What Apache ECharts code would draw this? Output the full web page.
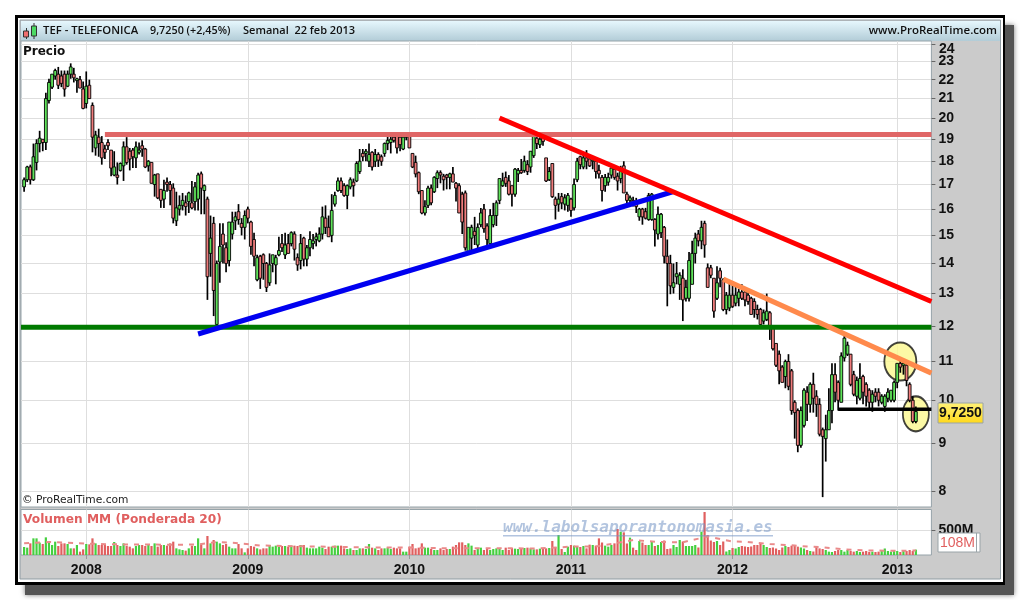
<!DOCTYPE html>
<html>
<head>
<meta charset="utf-8">
<title>TEF - TELEFONICA</title>
<style>
    html, body { margin: 0; padding: 0; background: #fff; }
    #chart { width: 1020px; height: 600px; }
</style>
<script src="https://cdn.jsdelivr.net/npm/echarts@6/dist/echarts.min.js"></script>
</head>
<body>
<div id="chart"></div>
<script>
// weekly candles as [open, close, low, high]
const candles2007 = [
    [16.9,17.2,16.7,17.3],[17.2,17.75,17.1,17.8],[17.75,17.2,17.0,17.85],[17.2,18.2,17.15,18.8],
    [17.95,18.8,17.6,19.0],[18.8,19.05,18.4,19.4],[19.0,18.85,18.45,19.0],[18.85,21.0,18.5,21.3],
    [20.9,21.85,20.75,22.05],[21.6,22.3,21.5,22.3],[22.2,22.5,22.0,22.6],[22.3,21.7,21.5,22.7],
    [22.2,21.8,21.6,22.5],[22.3,21.5,21.1,22.5],[21.65,22.3,21.6,22.5],[22.3,22.7,22.05,22.9],
    [22.3,22.1,21.85,22.65],[21.95,22.05,21.3,22.1],[22.0,21.55,21.55,22.2],[21.5,20.5,20.45,21.9]
];
const candles2008 = [
    [20.75,21.65,20.5,22.45],[21.7,21.0,21.0,22.0],[20.65,19.1,18.4,20.8],[18.6,19.2,18.25,19.4],
    [19.1,18.8,18.2,19.5],[18.85,18.15,17.85,19.15],[18.55,18.4,18.1,18.75],[18.85,18.7,18.5,19.0],
    [18.5,17.7,17.35,18.5],[17.4,17.75,17.35,18.45],[17.4,17.3,17.0,17.95],[17.6,17.9,17.55,17.95],
    [17.8,18.65,17.15,18.9],[18.65,17.95,17.85,19.1],[18.45,18.1,17.6,18.6],[18.5,18.2,17.7,18.6],
    [18.15,18.65,17.7,18.9],[18.4,18.5,18.3,18.85],[18.7,18.55,18.2,18.95],[18.55,17.75,17.7,18.6],
    [17.8,18.0,17.55,18.05],[17.95,17.05,17.05,17.95],[17.0,17.4,16.5,17.45],[17.45,16.45,16.4,17.45],
    [16.8,16.35,16.05,16.8],[16.4,16.75,16.05,17.2],[17.1,17.0,16.7,17.3],[17.0,16.75,16.15,17.15],
    [16.85,15.65,15.45,17.05],[15.55,16.05,15.35,16.7],[16.0,16.15,15.75,16.55],[16.15,16.35,15.95,16.65],
    [16.25,16.1,15.75,16.55],[16.3,16.65,15.85,16.7],[16.25,16.05,16.0,17.15],[16.3,16.9,15.95,17.1],
    [16.4,17.4,15.95,17.5],[17.45,16.85,15.8,17.55],[16.75,16.95,15.8,17.0],[16.4,13.55,12.8,16.5],
    [14.35,14.9,13.55,15.75],[15.45,13.1,12.3,15.7],[12.05,14.0,11.95,14.1],[14.05,14.6,13.35,15.45],
    [15.05,14.65,14.0,15.45],[14.55,14.0,13.7,14.75],[14.1,15.5,13.9,15.5],[15.05,15.5,14.85,15.9],
    [15.55,15.7,15.2,15.9],[15.9,15.6,15.4,16.2],[15.45,15.3,15.0,15.65],[15.3,15.75,14.85,15.95]
];
const candles2009 = [
    [16.0,15.65,15.45,16.1],[15.5,14.6,14.3,15.55],[14.85,14.25,13.9,15.1],[13.45,14.2,13.4,14.3],
    [14.25,13.5,13.15,14.3],[14.3,14.0,13.45,14.35],[14.0,13.2,13.05,14.05],[13.35,13.95,13.25,14.35],
    [14.0,14.3,13.7,14.3],[13.95,14.2,13.3,14.3],[14.3,14.45,14.25,14.95],[14.7,14.55,14.4,15.05],
    [14.3,14.65,14.15,15.1],[14.7,14.35,14.35,15.05],[14.7,15.1,14.6,15.15],[15.05,14.5,14.1,15.15],
    [14.2,13.95,13.75,14.35],[14.1,14.7,13.8,15.05],[14.9,14.15,13.9,14.95],[14.15,14.55,13.9,14.65],
    [14.55,14.85,14.25,15.15],[14.7,14.8,14.5,15.05],[14.85,14.95,14.6,15.1],[14.8,15.05,14.75,15.3],
    [15.05,15.7,14.85,16.1],[15.65,15.3,15.05,16.15],[15.3,14.95,14.95,15.75],[15.0,15.95,14.75,16.6],
    [16.2,16.55,16.1,16.7],[16.75,17.15,16.7,17.3],[17.15,16.75,16.65,17.3],[16.95,16.55,16.5,17.05],
    [16.55,16.95,16.0,17.0],[16.9,17.2,16.8,17.3],[17.1,16.95,16.5,17.25],[17.15,17.9,17.1,18.0],
    [17.55,18.0,17.45,18.55],[18.35,18.2,18.0,18.55],[18.35,18.45,18.0,18.55],[18.0,18.3,17.75,18.8],
    [18.4,17.75,17.6,18.45],[18.0,18.3,17.75,18.55],[18.3,18.05,17.75,18.4],[18.2,18.0,17.8,18.3],
    [18.35,18.8,18.2,18.85],[18.8,18.95,18.5,19.25],[18.85,19.0,18.35,19.2],[19.1,18.95,18.85,19.3],
    [19.2,18.6,18.35,19.3],[19.1,18.75,18.45,19.2],[18.55,19.1,18.5,19.3],[19.1,19.2,18.95,19.3]
];
const candles2010 = [
    [19.25,18.6,18.6,19.3],[18.35,17.75,17.7,18.35],[17.95,17.45,17.3,18.25],[17.5,16.7,16.6,17.55],
    [16.75,15.85,15.8,16.75],[15.85,16.1,15.75,16.35],[16.15,16.85,16.05,16.95],[16.85,16.25,16.15,17.0],
    [16.7,17.3,16.65,17.35],[17.25,17.5,16.85,17.6],[17.5,17.4,17.05,17.6],[17.35,17.2,16.75,17.45],
    [17.4,17.3,16.8,17.45],[17.3,17.45,16.8,17.5],[17.45,17.1,17.1,17.75],[17.05,16.85,16.3,17.1],
    [16.95,15.85,15.85,17.05],[16.6,15.5,15.05,16.7],[16.65,14.55,14.45,16.75],[14.4,15.3,14.4,15.3],
    [14.9,15.3,14.45,15.4],[15.15,15.0,14.65,15.7],[14.65,15.3,14.45,15.45],[15.4,15.85,15.3,16.05],
    [16.0,15.25,15.1,16.2],[15.35,14.85,14.6,15.45],[14.7,15.75,14.6,16.0],[15.4,15.75,15.3,16.25],
    [15.75,16.25,15.35,16.35],[16.35,17.25,16.2,17.25],[16.95,17.15,16.9,17.5],[17.3,17.05,16.9,17.55],
    [17.15,16.6,16.55,17.4],[16.95,16.6,16.1,16.95],[16.6,17.65,16.5,17.7],[17.45,17.6,17.1,17.7],
    [17.6,17.5,17.45,18.1],[17.6,18.0,17.5,18.25],[17.85,17.55,17.4,18.05],[17.75,18.45,17.5,18.45],
    [18.25,19.15,18.15,19.3],[19.05,18.8,18.55,19.1],[18.75,19.0,18.6,19.1],[19.1,18.9,18.7,19.2],
    [18.15,17.15,17.1,18.15],[17.2,17.55,17.15,17.75],[17.9,16.5,16.45,17.9],[16.4,16.15,15.6,16.5],
    [16.2,16.4,15.9,16.65],[16.5,16.25,16.0,16.65],[16.2,16.45,15.95,16.6],[16.15,16.55,15.9,16.65]
];
const candles2011 = [
    [16.4,15.95,15.7,16.45],[16.05,17.0,15.95,17.25],[17.2,18.0,17.1,18.15],[18.2,17.85,17.65,18.25],
    [17.75,18.15,17.65,18.35],[18.15,18.0,17.65,18.5],[18.1,17.8,17.75,18.2],[18.0,18.05,17.65,18.15],
    [18.0,17.55,17.25,18.05],[17.6,17.45,17.25,17.85],[17.3,16.75,16.3,17.4],[16.95,17.3,16.7,17.45],
    [17.1,17.3,16.95,17.5],[17.4,17.7,17.25,17.75],[17.65,17.3,17.2,17.75],[17.35,17.15,16.75,17.5],
    [17.25,17.55,17.05,17.8],[17.8,16.65,16.65,18.0],[16.6,16.35,16.2,16.7],[16.35,16.45,16.15,16.55],
    [16.35,16.2,16.1,16.5],[16.25,16.1,15.85,16.45],[15.7,16.0,15.55,16.05],[16.0,15.7,15.4,16.05],
    [15.9,15.65,15.6,16.05],[15.6,16.55,15.55,16.65],[15.6,16.6,15.55,16.65],[15.6,15.2,14.6,15.65],
    [15.05,15.8,14.85,16.1],[15.1,15.8,14.9,15.85],[15.3,14.25,14.0,15.35],[14.25,14.0,12.6,14.85],
    [14.0,13.25,12.98,14.3],[13.2,13.35,13.0,14.0],[13.55,13.65,13.3,14.05],[13.3,13.6,12.8,13.7],
    [13.5,12.8,12.15,13.8],[12.85,13.2,12.75,13.45],[12.85,14.1,12.75,14.4],[13.3,14.35,13.3,14.8],
    [14.35,14.9,14.0,15.1],[15.05,14.8,14.6,15.2],[14.8,15.3,14.5,15.55],[15.45,14.65,14.2,15.55],
    [13.85,13.2,13.2,14.0],[13.85,13.6,13.5,13.95],[13.5,12.45,12.25,13.5],[12.85,13.35,12.8,13.9],
    [13.75,13.5,13.2,13.85],[13.45,12.5,12.45,13.5],[12.5,12.95,12.35,13.05],[12.55,12.95,12.45,13.35]
];
const candles2012 = [
    [12.95,12.6,12.55,13.3],[12.7,12.95,12.6,13.25],[12.85,13.05,12.6,13.15],[13.05,12.85,12.8,13.3],
    [13.05,12.8,12.6,13.15],[12.95,12.75,12.65,13.15],[12.85,12.35,12.35,12.9],[12.75,12.5,12.25,12.85],
    [12.5,12.35,12.2,12.65],[12.5,12.05,12.0,12.55],[12.15,12.4,12.05,12.5],[12.2,12.45,12.15,13.0],
    [12.4,12.0,11.6,12.45],[11.95,11.35,11.3,12.0],[11.5,10.9,10.85,11.5],[11.2,10.75,10.4,11.3],
    [10.85,10.45,10.45,10.9],[10.6,11.0,10.3,11.05],[11.0,10.35,10.25,11.2],[10.75,9.75,9.65,10.8],
    [9.95,9.7,9.1,10.0],[9.75,8.95,8.8,9.8],[8.95,9.75,8.9,9.85],[9.4,10.25,9.35,10.3],
    [10.2,9.9,9.5,10.35],[9.9,10.4,9.7,10.45],[10.4,10.05,9.7,10.7],[10.1,9.9,9.6,10.25],
    [9.9,9.2,9.15,10.05],[9.3,9.15,7.88,9.35],[9.1,9.3,8.6,9.65],[9.3,9.75,9.3,10.3],
    [9.75,10.65,9.45,10.95],[10.65,10.2,9.95,10.95],[10.45,10.0,9.75,10.5],[9.95,11.15,9.95,11.25],
    [11.1,11.65,11.0,11.75],[11.2,11.45,11.15,11.55],[11.2,10.4,10.35,11.2],[10.65,10.15,10.1,10.75],
    [10.1,10.5,9.9,10.6],[10.05,10.55,10.0,10.95],[10.6,10.2,9.9,10.65],[10.4,10.1,9.85,10.45],
    [10.25,9.95,9.8,10.3],[9.95,10.15,9.72,10.25],[10.2,10.1,9.95,10.3],[10.2,10.0,9.85,10.3],
    [9.95,10.1,9.9,10.15],[9.85,10.1,9.72,10.15],[10.05,10.2,9.95,10.3],[10.0,10.25,9.95,10.25],
    [10.0,10.45,9.95,10.5]
];
const candles2013 = [
    [10.45,10.95,10.3,10.95],[10.95,10.85,10.7,11.05],[10.9,10.95,10.65,11.05],[10.9,10.5,10.35,10.95],
    [10.4,10.0,9.95,10.45],[10.0,9.49,9.45,10.1],[9.49,9.725,9.45,9.85]
];

// volume in millions
const volume2007 = [160,147,233,333,333,247,220,353,260,200,267,180,233,233,220,133,133,200,67,113];
const volume2008 = [220,213,333,233,200,200,200,180,180,260,200,180,233,180,167,133,180,200,200,180,
    220,180,233,167,200,200,187,233,267,133,113,100,87,133,187,180,333,200,133,380,
    233,300,267,233,200,220,167,133,133,220,133,53];
const volume2009 = [133,180,167,133,113,133,133,200,167,187,167,180,180,167,187,187,180,200,200,147,
    133,133,133,167,147,120,167,167,187,187,187,133,120,133,100,100,133,133,120,220,
    147,133,100,133,133,147,120,147,133,133,67,67];
const volume2010 = [167,220,133,147,233,147,147,120,100,100,133,100,120,120,167,200,253,253,200,233,
    187,100,133,147,100,133,100,120,133,133,100,147,100,140,127,120,133,140,147,133,
    113,113,127,127,133,140,280,160,400,120,60,167];
const volume2011 = [200,187,167,160,180,133,207,200,187,333,250,187,167,200,233,520,467,453,230,347,
    147,100,280,250,200,200,260,180,200,260,290,120,130,200,160,300,270,180,180,180,
    200,150,467,860,400,290,260,280,200,270,70,100];
const volume2012 = [140,130,160,180,170,160,170,200,200,233,200,160,140,150,130,100,150,180,160,187,
    187,167,150,130,100,80,70,170,133,120,100,67,60,80,100,100,67,100,80,67,
    80,60,67,80,60,67,60,67,80,130,80,67,100];
const volume2013 = [80,60,100,80,100,80,108];

// volume moving average, [week slot, millions]
const volumeAverage = [[1,235],[9,260],[17,240],[25,220],[33,210],[41,210],[49,205],[57,210],[63,260],[69,240],
    [77,190],[89,175],[101,165],[113,150],[125,150],[137,135],[149,135],[157,135],[165,130],[173,150],
    [177,170],[185,170],[191,230],[197,300],[205,260],[213,255],[221,370],[225,320],[229,270],[233,265],
    [241,220],[249,190],[253,170],[257,160],[265,110],[273,90],[281,85],[288,88]];

// trend lines, [week slot, price]
const lineResistance = [[27,19.22],[293,19.22]];
const lineSupport = [[0,11.97],[293,11.97]];
const lineBlue = [[57,11.77],[210,16.71]];
const lineRed = [[154,20.02],[293,12.75]];
const lineOrange = [[226,13.47],[293,10.69]];
const lineBlack = [[263,9.78],[293,9.78]];
const circleTop = [[283,11.0]];
const circleBottom = [[288,9.67]];

const priceTicks = [8,9,10,11,12,13,14,15,16,17,18,19,20,21,22,23,24];
const priceLabels = [8,9,10,11,12,13,14,15,16,17,18,19,20,21,22,23];
const volumeTicks = [500];
const yearSlots = [21,73,125,177,229,282];
const yearLabels = ['2008','2009','2010','2011','2012','2013'];

const candles = [].concat(candles2007, candles2008, candles2009, candles2010, candles2011, candles2012, candles2013);
const volumes = [].concat(volume2007, volume2008, volume2009, volume2010, volume2011, volume2012, volume2013);

// one empty slot before the first week, five after the last
let weeks = [''];
candles.forEach((v, i) => {
    weeks.push(new Date(Date.UTC(2007, 7, 24 + i * 7)).toISOString().slice(0, 10));
});
for (let i = 0; i < 5; i++) weeks.push('+' + i);

const RED = '#e05f5f';
const GREEN = '#45cf3f';

function isYear(index) {
    return yearSlots.indexOf(index) >= 0;
}

// the stock candlestick draws wick and border with one width, here the wick is heavier
function renderCandle(params, api) {
    let slot = api.value(0);
    let open = api.coord([slot, api.value(1)]);
    let close = api.coord([slot, api.value(2)]);
    let low = api.coord([slot, api.value(3)]);
    let high = api.coord([slot, api.value(4)]);
    let x = open[0];
    let top = Math.min(open[1], close[1]);
    let height = Math.max(Math.abs(open[1] - close[1]), 1);
    return {
        type: 'group',
        children: [
            {
                type: 'line',
                shape: { x1: x, y1: high[1], x2: x, y2: low[1] },
                style: { stroke: '#000', lineWidth: 1.7 }
            },
            {
                type: 'rect',
                shape: { x: x - 1.4, y: top, width: 2.8, height: height },
                style: {
                    fill: api.value(2) >= api.value(1) ? '#5fe35a' : '#f07c7c',
                    stroke: '#000',
                    lineWidth: 0.9
                }
            }
        ]
    };
}

function trend(data, color, width) {
    return {
        type: 'line',
        data: data,
        symbol: 'none',
        silent: true,
        z: 6,
        lineStyle: { color: color, width: width, cap: 'butt' }
    };
}

function circle(data, size) {
    return {
        type: 'scatter',
        data: data,
        symbol: 'circle',
        symbolSize: size,
        silent: true,
        z: 4,
        itemStyle: { color: '#fbf78f', borderColor: '#111', borderWidth: 2 }
    };
}

function label(x, y, text, font, fill, extra) {
    return {
        type: 'text',
        z: 50,
        x: x,
        y: y,
        style: Object.assign({ text: text, font: font, fill: fill, textVerticalAlign: 'middle' }, extra || {})
    };
}

const backdrop = [
    { type: 'rect', z: -10, shape: { x: 25, y: 25, width: 989, height: 570 }, style: { fill: '#545454', shadowBlur: 5, shadowColor: '#777' } },
    { type: 'rect', z: -9, shape: { x: 15, y: 15, width: 990, height: 570 }, style: { fill: '#000' } },
    { type: 'rect', z: -8, shape: { x: 18, y: 18, width: 985, height: 564 }, style: { fill: '#fff' } },
    { type: 'rect', z: -7, shape: { x: 20, y: 20, width: 980.5, height: 559 }, style: { fill: '#cbcbcb', stroke: '#8f9ca3', lineWidth: 1 } },
    {
        type: 'rect', z: -6, shape: { x: 21, y: 21, width: 979, height: 20 },
        style: {
            fill: new echarts.graphic.LinearGradient(0, 0, 0, 1, [
                { offset: 0, color: '#e6f7fd' }, { offset: 1, color: '#b2ccd7' }
            ])
        }
    }
];

const overlay = [
    // little candle icon in the header
    { type: 'rect', z: 50, shape: { x: 26, y: 28, width: 1, height: 11 }, style: { fill: '#333' } },
    { type: 'rect', z: 50, shape: { x: 33.5, y: 23, width: 1, height: 16 }, style: { fill: '#333' } },
    { type: 'rect', z: 50, shape: { x: 23.5, y: 31, width: 5, height: 6 }, style: { fill: '#ef6f6f', stroke: '#333', lineWidth: 1 } },
    { type: 'rect', z: 50, shape: { x: 31.5, y: 26, width: 5, height: 10 }, style: { fill: '#4cd964', stroke: '#333', lineWidth: 1 } },
    label(43, 31, 'TEF - TELEFONICA', '600 11.3px "Open Sans"', '#111'),
    label(150, 31, '9,7250 (+2,45%)', '600 10.8px "Open Sans"', '#111'),
    label(243, 31, 'Semanal  22 feb 2013', '600 11px "Open Sans"', '#111'),
    label(997, 31, 'www.ProRealTime.com', '600 11.5px "Open Sans"', '#111', { textAlign: 'right' }),
    label(23, 51.5, 'Precio', 'bold 12px "DejaVu Sans"', '#111'),
    label(22, 500, '© ProRealTime.com', '10.7px "DejaVu Sans"', '#222'),
    label(23, 520, 'Volumen MM (Ponderada 20)', 'bold 12.2px "DejaVu Sans"', RED),
    label(503, 528, 'www.labolsaporantonomasia.es', 'italic bold 16px "DejaVu Sans Mono"', 'rgba(115,148,196,0.55)'),
    { type: 'rect', z: 50, shape: { x: 503, y: 535, width: 270, height: 1.6 }, style: { fill: 'rgba(115,148,196,0.55)' } },
    // the top label sits below its tick in the original
    label(939, 49, '24', 'bold 14px "Liberation Sans"', '#111'),
    // last price tag
    {
        type: 'rect', z: 50, shape: { x: 938, y: 403, width: 45, height: 20 },
        style: {
            stroke: '#9aa4a8',
            lineWidth: 1,
            fill: new echarts.graphic.LinearGradient(0, 0, 0, 1, [
                { offset: 0, color: '#fff27a' }, { offset: 1, color: '#ffd81a' }
            ])
        }
    },
    label(960.5, 413, '9,7250', 'bold 14px "Liberation Sans"', '#111', { textAlign: 'center' }),
    // last volume tag
    { type: 'rect', z: 50, shape: { x: 938, y: 533, width: 42, height: 19 }, style: { fill: '#fff', stroke: '#9aa4a8', lineWidth: 1 } },
    { type: 'rect', z: 50, shape: { x: 976, y: 533, width: 1, height: 19 }, style: { fill: '#9aa4a8' } },
    label(940, 543, '108M', '14px "Liberation Sans"', RED)
];

const xSplit = { show: true, interval: isYear, lineStyle: { color: '#dedede', width: 1 } };

let chart = echarts.init(document.getElementById('chart'), null, { renderer: 'canvas' });
chart.setOption({
    animation: false,
    backgroundColor: '#fff',
    graphic: { elements: backdrop.concat(overlay) },
    grid: [
        { left: 21, top: 41, width: 910.4, height: 466, show: true, backgroundColor: '#fff', borderColor: '#96a3a9', borderWidth: 1 },
        { left: 21, top: 509.5, width: 910.4, height: 45.5, show: true, backgroundColor: '#fff', borderColor: '#96a3a9', borderWidth: 1 }
    ],
    xAxis: [
        {
            type: 'category',
            gridIndex: 0,
            data: weeks,
            boundaryGap: false,
            axisLine: { show: false },
            axisTick: { show: false },
            axisLabel: { show: false },
            splitLine: xSplit
        },
        {
            type: 'category',
            gridIndex: 1,
            data: weeks,
            boundaryGap: false,
            axisLine: { show: false },
            axisTick: { show: true, interval: isYear, length: 4, lineStyle: { color: '#999' } },
            axisLabel: {
                show: true,
                interval: isYear,
                margin: 8,
                color: '#111',
                fontFamily: 'Liberation Sans',
                fontWeight: 'bold',
                fontSize: 14,
                formatter: (v, i) => yearLabels[yearSlots.indexOf(i)] || ''
            },
            splitLine: xSplit
        }
    ],
    yAxis: [
        {
            type: 'log',
            gridIndex: 0,
            position: 'right',
            min: 7.691,
            max: 24.195,
            axisLine: { show: false },
            axisTick: { show: true, length: 4, customValues: priceTicks, lineStyle: { color: '#666' } },
            axisLabel: {
                show: true,
                customValues: priceLabels,
                margin: 7,
                color: '#111',
                fontFamily: 'Liberation Sans',
                fontWeight: 'bold',
                fontSize: 14
            },
            splitLine: { show: true, lineStyle: { color: '#dedede', width: 1 } }
        },
        {
            type: 'value',
            gridIndex: 1,
            position: 'right',
            min: 0,
            max: 910,
            axisLine: { show: false },
            axisTick: { show: true, length: 4, customValues: volumeTicks, lineStyle: { color: '#666' } },
            axisLabel: {
                show: true,
                customValues: volumeTicks,
                margin: 7,
                color: '#111',
                fontFamily: 'Liberation Sans',
                fontWeight: 'bold',
                fontSize: 14,
                formatter: '{value}M'
            },
            splitLine: { show: true, lineStyle: { color: '#dedede', width: 1 } }
        }
    ],
    series: [
        {
            type: 'custom',
            xAxisIndex: 0,
            yAxisIndex: 0,
            data: candles.map((c, i) => [i + 1].concat(c)),
            encode: { x: 0, y: [1, 2, 3, 4] },
            renderItem: renderCandle,
            silent: true,
            z: 5
        },
        trend(lineResistance, '#e06666', 5),
        trend(lineSupport, '#007a00', 5),
        trend(lineBlue, '#0000f0', 5),
        trend(lineRed, '#ff0000', 5),
        trend(lineOrange, '#ff8a4c', 5),
        trend(lineBlack, '#000', 3.5),
        circle(circleTop, [32, 38]),
        circle(circleBottom, [26, 35]),
        {
            type: 'bar',
            xAxisIndex: 1,
            yAxisIndex: 1,
            data: ['-'].concat(volumes),
            barWidth: 2.2,
            z: 5,
            itemStyle: {
                color: (p) => {
                    let c = candles[p.dataIndex - 1];
                    return c && c[1] >= c[0] ? GREEN : RED;
                }
            }
        },
        {
            type: 'line',
            xAxisIndex: 1,
            yAxisIndex: 1,
            data: volumeAverage,
            symbol: 'none',
            z: 6,
            lineStyle: { color: '#ea8a8a', width: 2, type: [5, 6] }
        }
    ]
});
</script>
</body>
</html>
